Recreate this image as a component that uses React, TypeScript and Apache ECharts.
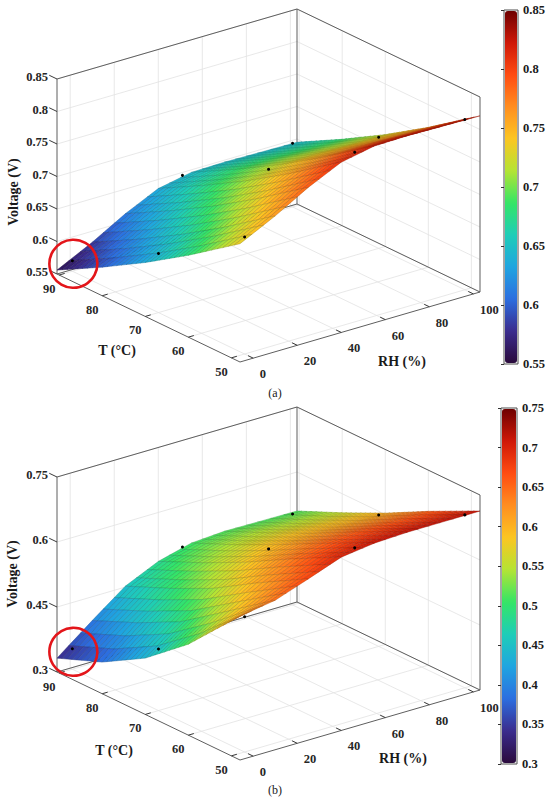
import React, { useEffect, useRef } from "react";
import * as echarts from "echarts";

// ---------- axes ----------
const RH_LIMITS = [-6, 103];
const T_LIMITS = [48, 90.5];
const RH_TICKS = [0, 20, 40, 60, 80, 100];
const T_TICKS = [90, 80, 70, 60, 50];
const Z_LIMITS_A = [0.55, 0.85];
const Z_TICKS_A = [0.55, 0.6, 0.65, 0.7, 0.75, 0.8, 0.85];
const Z_LIMITS_B = [0.3, 0.75];
const Z_TICKS_B = [0.3, 0.45, 0.6, 0.75];

// ---------- surface ----------
const SURF_RH = [-6, 10, 25, 40, 55, 70, 85, 103];
const SURF_T = [90.5, 80, 70, 60, 48];
const SURF_A = [
  [0.556, 0.583, 0.612, 0.636, 0.646, 0.647, 0.646, 0.645],
  [0.594, 0.621, 0.65, 0.674, 0.684, 0.685, 0.684, 0.683],
  [0.633, 0.66, 0.689, 0.713, 0.723, 0.724, 0.723, 0.722],
  [0.676, 0.703, 0.732, 0.756, 0.766, 0.767, 0.766, 0.765],
  [0.732, 0.759, 0.788, 0.812, 0.822, 0.823, 0.822, 0.821],
];
const SURF_B = [
  [0.332, 0.395, 0.452, 0.487, 0.507, 0.512, 0.511, 0.51],
  [0.373, 0.44, 0.497, 0.534, 0.553, 0.558, 0.557, 0.556],
  [0.43, 0.49, 0.545, 0.583, 0.601, 0.605, 0.604, 0.603],
  [0.51, 0.56, 0.605, 0.638, 0.652, 0.656, 0.655, 0.655],
  [0.632, 0.645, 0.672, 0.7, 0.71, 0.713, 0.713, 0.713],
];

// ---------- measured points ----------
const MEAS_RH = [0, 50, 100];
const MEAS_T = [90, 70, 50];
const MEAS_A = [
  [0.566, 0.648, 0.648],
  [0.641, 0.721, 0.721],
  [0.73, 0.811, 0.812],
];
const MEAS_B = [
  [0.347, 0.508, 0.51],
  [0.442, 0.599, 0.603],
  [0.612, 0.697, 0.699],
];

const COLORMAP = [
  "#2a0a3c", "#3a2c8e", "#2c6ee0", "#1fa5e0", "#1ecdb8", "#34e566",
  "#b4e434", "#fcc622", "#ff8e20", "#ff4c12", "#cf1808", "#6e0000",
];

// ---------- view (projection) ----------
const VIEW = { ux: 240, uy: 70, vx: 183, vy: -88, wz: 195 };
const FONT = '"Liberation Serif", "Times New Roman", serif';

function proj(rh: number, t: number, v: number, zl: number[]) {
  const a = (rh - RH_LIMITS[0]) / (RH_LIMITS[1] - RH_LIMITS[0]);
  const b = (T_LIMITS[1] - t) / (T_LIMITS[1] - T_LIMITS[0]);
  const c = (v - zl[0]) / (zl[1] - zl[0]);
  return [VIEW.ux * a + VIEW.vx * b, VIEW.uy * a + VIEW.vy * b + VIEW.wz * c];
}

const CMAP_RGB = COLORMAP.map((h) => [
  parseInt(h.slice(1, 3), 16),
  parseInt(h.slice(3, 5), 16),
  parseInt(h.slice(5, 7), 16),
]);
function cmap(t: number) {
  const n = CMAP_RGB.length;
  const x = Math.max(0, Math.min(1, t)) * (n - 1);
  const i = Math.min(n - 2, Math.floor(x));
  const f = x - i;
  return [0, 1, 2].map((k) => Math.round(CMAP_RGB[i][k] * (1 - f) + CMAP_RGB[i + 1][k] * f));
}

function fmt(v: number) {
  return String(Math.round(v * 100) / 100);
}

function buildLines(zl: number[], zticks: number[]) {
  const [r0, r1] = RH_LIMITS;
  const [t0, t1] = T_LIMITS;
  const [z0, z1] = zl;
  const d: number[][] = [];
  RH_TICKS.forEach((r) => {
    d.push([r, t1, z0, r, t1, z1, 0]);
    d.push([r, t1, z0, r, t0, z0, 0]);
  });
  T_TICKS.forEach((t) => {
    d.push([r1, t, z0, r1, t, z1, 0]);
    d.push([r0, t, z0, r1, t, z0, 0]);
  });
  zticks.forEach((z) => {
    d.push([r0, t1, z, r1, t1, z, 0]);
    d.push([r1, t1, z, r1, t0, z, 0]);
  });
  d.push([r0, t1, z0, r0, t1, z1, 1]);
  d.push([r1, t1, z0, r1, t1, z1, 1]);
  d.push([r1, t0, z0, r1, t0, z1, 1]);
  d.push([r0, t1, z1, r1, t1, z1, 1]);
  d.push([r1, t1, z1, r1, t0, z1, 1]);
  d.push([r0, t1, z0, r1, t1, z0, 1]);
  d.push([r1, t1, z0, r1, t0, z0, 1]);
  d.push([r0, t1, z0, r0, t0, z0, 1]);
  d.push([r0, t0, z0, r1, t0, z0, 1]);
  zticks.forEach((z) => d.push([r0, t1, z, r0, t1 + 1.8, z, 2]));
  T_TICKS.forEach((t) => d.push([r0, t, z0, r0 + 2.5, t, z0, 2]));
  RH_TICKS.forEach((r) => d.push([r, t0, z0, r, t0 + 1.2, z0, 2]));
  return d;
}

function buildLabels(zl: number[], zticks: number[]) {
  const L: any[] = [];
  zticks.forEach((z) =>
    L.push({ v: [RH_LIMITS[0], T_LIMITS[1], z], text: fmt(z), dx: -9, dy: -2, align: "right" })
  );
  T_TICKS.forEach((t) =>
    L.push({ v: [RH_LIMITS[0], t, zl[0]], text: String(t), dx: -10, dy: 14, align: "center" })
  );
  RH_TICKS.forEach((r) =>
    L.push({ v: [r, T_LIMITS[0], zl[0]], text: String(r), dx: 6.5, dy: 16, align: "left" })
  );
  return L;
}

function buildCells(grid: number[][]) {
  const cells: number[][] = [];
  for (let i = 0; i < SURF_T.length - 1; i++)
    for (let j = 0; j < SURF_RH.length - 1; j++) {
      const m = (grid[i][j] + grid[i][j + 1] + grid[i + 1][j] + grid[i + 1][j + 1]) / 4;
      cells.push([i, j, m]);
    }
  const near = (c: number[]) => {
    const rh = (SURF_RH[c[1]] + SURF_RH[c[1] + 1]) / 2;
    const t = (SURF_T[c[0]] + SURF_T[c[0] + 1]) / 2;
    const a = (rh - RH_LIMITS[0]) / (RH_LIMITS[1] - RH_LIMITS[0]);
    const b = (T_LIMITS[1] - t) / (T_LIMITS[1] - T_LIMITS[0]);
    return -VIEW.vy * b - VIEW.uy * a;
  };
  cells.sort((p, q) => near(p) - near(q));
  return cells;
}

function panelSeries(p: number, grid: number[][], meas: number[][], zl: number[], zticks: number[]) {
  const lines = buildLines(zl, zticks);
  const labels = buildLabels(zl, zticks);
  const cells = buildCells(grid);
  const pts: number[][] = [];
  MEAS_T.forEach((t, i) => MEAS_RH.forEach((r, j) => pts.push([r, t, meas[i][j]])));
  const base = { type: "custom", coordinateSystem: "cartesian2d", xAxisIndex: p, yAxisIndex: p, silent: true };
  return [
    {
      ...base,
      name: "box" + p,
      z: 1,
      data: lines,
      renderItem: (params: any, api: any) => {
        const a = api.coord(proj(api.value(0), api.value(1), api.value(2), zl));
        const b = api.coord(proj(api.value(3), api.value(4), api.value(5), zl));
        const k = api.value(6);
        return {
          type: "line",
          shape: { x1: a[0], y1: a[1], x2: b[0], y2: b[1] },
          style: {
            stroke: k === 0 ? "#e2e2e2" : k === 1 ? "#5e5e5e" : "#3a3a3a",
            lineWidth: k === 0 ? 0.8 : 1,
          },
        };
      },
    },
    {
      ...base,
      name: "surface" + p,
      z: 2,
      data: cells,
      renderItem: (params: any, api: any) => {
        const i = api.value(0);
        const j = api.value(1);
        const NT = 9;
        const NR = 3;
        const Lt: any[] = [];
        for (let s = 0; s <= NT; s++) {
          const row: any[] = [];
          for (let k = 0; k <= NR; k++) {
            const fi = s / NT;
            const fj = k / NR;
            const t = SURF_T[i] + (SURF_T[i + 1] - SURF_T[i]) * fi;
            const rh = SURF_RH[j] + (SURF_RH[j + 1] - SURF_RH[j]) * fj;
            const v =
              (1 - fi) * (1 - fj) * grid[i][j] +
              (1 - fi) * fj * grid[i][j + 1] +
              fi * (1 - fj) * grid[i + 1][j] +
              fi * fj * grid[i + 1][j + 1];
            row.push({ p: api.coord(proj(rh, t, v, zl)), v });
          }
          Lt.push(row);
        }
        const children: any[] = [];
        for (let s = 0; s < NT; s++)
          for (let k = NR - 1; k >= 0; k--) {
            const q = [Lt[s][k], Lt[s][k + 1], Lt[s + 1][k + 1], Lt[s + 1][k]];
            const mv = (q[0].v + q[1].v + q[2].v + q[3].v) / 4;
            const c = cmap((mv - zl[0]) / (zl[1] - zl[0]));
            children.push({
              type: "polygon",
              shape: { points: q.map((o: any) => o.p) },
              style: {
                fill: `rgb(${c[0]},${c[1]},${c[2]})`,
                stroke: `rgb(${Math.round(c[0] * 0.7)},${Math.round(c[1] * 0.7)},${Math.round(c[2] * 0.7)})`,
                lineWidth: 0.45,
              },
            });
          }
        return { type: "group", children };
      },
    },
    {
      ...base,
      name: "points" + p,
      z: 3,
      data: pts,
      renderItem: (params: any, api: any) => {
        const c = api.coord(proj(api.value(0), api.value(1), api.value(2), zl));
        const children: any[] = [
          { type: "circle", shape: { cx: c[0], cy: c[1], r: 1.5 }, style: { fill: "#000" } },
        ];
        if (params.dataIndex === 0)
          children.push({
            type: "circle",
            shape: { cx: c[0] + 1, cy: c[1] + 3, r: 24 },
            style: { fill: "none", stroke: "#e3151a", lineWidth: 2.6 },
          });
        return { type: "group", children };
      },
    },
    {
      ...base,
      name: "labels" + p,
      z: 4,
      data: labels.map((l) => l.v),
      renderItem: (params: any, api: any) => {
        const l = labels[params.dataIndex];
        const c = api.coord(proj(api.value(0), api.value(1), api.value(2), zl));
        return {
          type: "text",
          style: {
            text: l.text,
            x: c[0] + l.dx,
            y: c[1] + l.dy,
            font: `bold 12.5px ${FONT}`,
            fill: "#262626",
            align: l.align,
            textAlign: l.align,
            verticalAlign: "middle",
            textVerticalAlign: "middle",
          },
        };
      },
    },
  ];
}

function title(text: string, x: number, y: number, rot = 0, size = 14, bold = true) {
  return {
    type: "text",
    x,
    y,
    rotation: rot,
    silent: true,
    style: {
      text,
      font: `${bold ? "bold " : ""}${size}px ${FONT}`,
      fill: "#1a1a1a",
      align: "center",
      textAlign: "center",
      verticalAlign: "middle",
      textVerticalAlign: "middle",
    },
  };
}

function cbarAxis(gridIndex: number, zl: number[]) {
  return {
    gridIndex,
    type: "value",
    position: "right",
    min: zl[0],
    max: zl[1],
    interval: 0.05,
    z: 10,
    axisLine: { show: false },
    splitLine: { show: false },
    axisTick: { show: true, inside: true, length: 3, lineStyle: { color: "#333", width: 1 } },
    axisLabel: {
      margin: 5,
      fontFamily: FONT,
      fontWeight: "bold",
      fontSize: 12.5,
      color: "#1a1a1a",
      formatter: (v: number) => fmt(v),
    },
  };
}

export default function App() {
  const ref = useRef<HTMLDivElement>(null);
  useEffect(() => {
    if (!ref.current) return;
    const chart = echarts.init(ref.current, undefined, { renderer: "svg" });
    const sa = panelSeries(0, SURF_A, MEAS_A, Z_LIMITS_A, Z_TICKS_A);
    const sb = panelSeries(1, SURF_B, MEAS_B, Z_LIMITS_B, Z_TICKS_B);
    const option: any = {
      animation: false,
      grid: [
        { left: 57, top: 9, width: 423, height: 353, show: false },
        { left: 57, top: 407, width: 423, height: 353, show: false },
        { left: 504, top: 10, width: 14, height: 354, show: true, borderColor: "#4d4d4d", borderWidth: 1, backgroundColor: "transparent" },
        { left: 501, top: 408, width: 16, height: 356, show: true, borderColor: "#4d4d4d", borderWidth: 1, backgroundColor: "transparent" },
      ],
      xAxis: [
        { gridIndex: 0, type: "value", min: 0, max: 423, show: false },
        { gridIndex: 1, type: "value", min: 0, max: 423, show: false },
        { gridIndex: 2, type: "value", min: 0, max: 1, show: false },
        { gridIndex: 3, type: "value", min: 0, max: 1, show: false },
      ],
      yAxis: [
        { gridIndex: 0, type: "value", min: -88, max: 265, show: false },
        { gridIndex: 1, type: "value", min: -88, max: 265, show: false },
        cbarAxis(2, Z_LIMITS_A),
        cbarAxis(3, Z_LIMITS_B),
      ],
      visualMap: [
        {
          type: "continuous",
          min: Z_LIMITS_A[0],
          max: Z_LIMITS_A[1],
          seriesIndex: 1,
          dimension: 2,
          orient: "vertical",
          left: 505,
          top: 11,
          itemWidth: 12,
          itemHeight: 352,
          padding: 0,
          calculable: false,
          hoverLink: false,
          inRange: { color: COLORMAP },
        },
        {
          type: "continuous",
          min: Z_LIMITS_B[0],
          max: Z_LIMITS_B[1],
          seriesIndex: 5,
          dimension: 2,
          orient: "vertical",
          left: 502,
          top: 409,
          itemWidth: 14,
          itemHeight: 354,
          padding: 0,
          calculable: false,
          hoverLink: false,
          inRange: { color: COLORMAP },
        },
      ],
      graphic: [
        title("Voltage (V)", 13, 192, Math.PI / 2),
        title("T (°C)", 117, 350),
        title("RH (%)", 402, 361),
        title("(a)", 275, 393, 0, 12, false),
        title("Voltage (V)", 12, 574, Math.PI / 2),
        title("T (°C)", 114, 750),
        title("RH (%)", 403, 758),
        title("(b)", 275, 790, 0, 12, false),
      ],
      series: [...sa, ...sb],
    };
    chart.setOption(option);
    return () => chart.dispose();
  }, []);
  return (
    <div
      ref={ref}
      style={{ position: "absolute", left: 0, top: 0, width: 550, height: 799 }}
    />
  );
}
